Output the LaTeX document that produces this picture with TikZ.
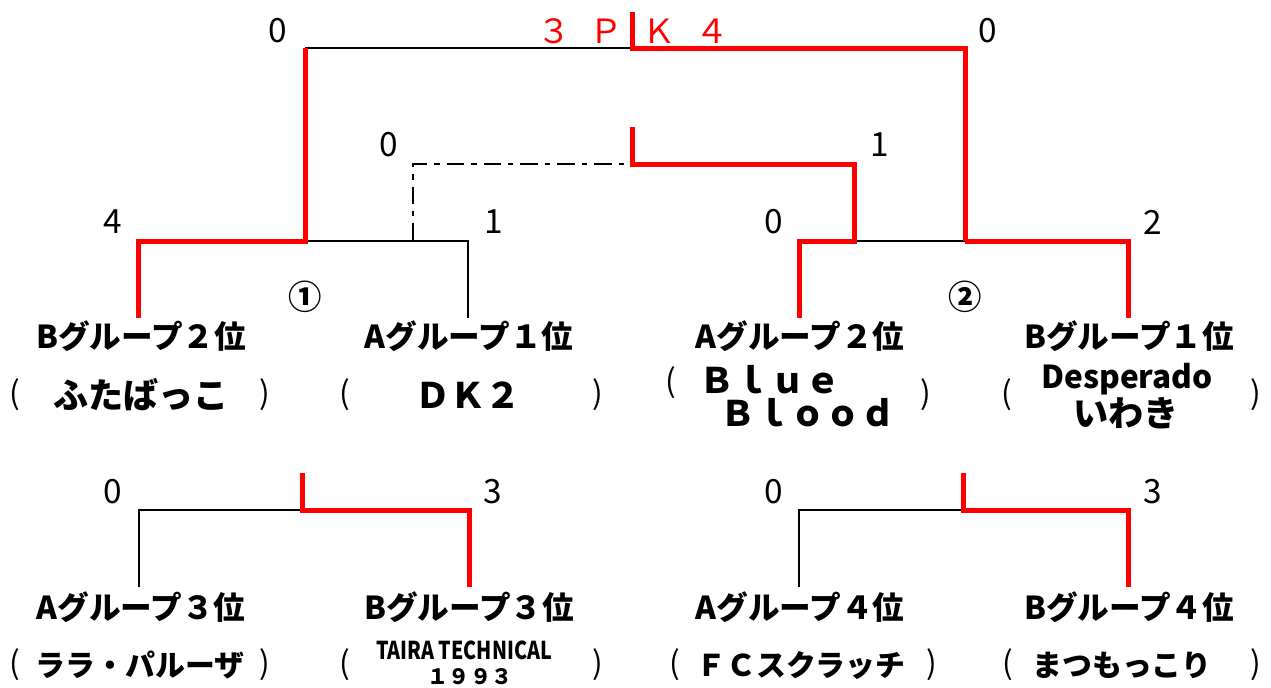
\documentclass[tikz,border=0pt]{standalone}
\usepackage{fontspec}
\setmainfont{Noto Sans CJK JP}
\newfontfamily\narrowfont[FakeStretch=0.8]{Noto Sans CJK JP}
\usepackage{tikz}

\begin{document}
\begin{tikzpicture}[x=0.02cm,y=-0.02cm,
    win/.style={draw=red, line width=0.1cm},
    lose/.style={draw=black, line width=0.055cm},
    thirdline/.style={draw=black, line width=0.055cm, dash pattern=on 10pt off 4pt on 3pt off 4pt},
    score/.style={font=\fontsize{19}{19}\selectfont, inner sep=0pt},
    grp/.style={font=\fontsize{18}{18}\selectfont\bfseries, inner sep=0pt},
    team/.style={font=\fontsize{20}{20}\selectfont\bfseries, inner sep=0pt},
    teamsm/.style={font=\fontsize{17}{17}\selectfont\bfseries, inner sep=0pt},
    paren/.style={font=\fontsize{18}{18}\selectfont, inner sep=0pt}]

    \useasboundingbox (0,0) rectangle (1271,687);

    % Draw group labels
    \node[grp] (g1) at (141,336) {Bグループ２位};
    \node[grp] (g2) at (469,336) {Aグループ１位};
    \node[grp] (g3) at (800,336) {Aグループ２位};
    \node[grp] (g4) at (1129,336) {Bグループ１位};
    \node[grp] (g5) at (141,607) {Aグループ３位};
    \node[grp] (g6) at (469,607) {Bグループ３位};
    \node[grp] (g7) at (800,607) {Aグループ４位};
    \node[grp] (g8) at (1129,607) {Bグループ４位};

    % Team names
    \node[team] (t1) at (141,395) {ふたばっこ};
    \node[team] (t2) at (468,395) {ＤＫ２};
    \node[team] (t3a) at (770,380) {Ｂｌｕｅ};
    \node[team] (t3b) at (808,413) {Ｂｌｏｏｄ};
    \node[grp] (t4a) at (1127,379) {Desperado};
    \node[team] (t4b) at (1126,413) {いわき};
    \node[teamsm] (t5) at (140,665) {ララ・パルーザ};
    \node[grp, font=\narrowfont\fontsize{14}{14}\selectfont\bfseries] (t6a) at (464,650) {TAIRA TECHNICAL};
    \node[inner sep=0pt, font=\fontsize{12}{12}\selectfont\bfseries] (t6b) at (470,677) {１９９３};
    \node[teamsm] (t7) at (801,665) {ＦＣスクラッチ};
    \node[teamsm] (t8) at (1122,665) {まつもっこり};

    % Brackets round the names
    \foreach \x/\y/\n in {15/395/a1, 345/395/a2, 671/383/a3, 1007/395/a4,
                          15/665/a5, 345/665/a6, 675/665/a7, 1008/665/a8}
        \node[paren] (o\n) at (\x,\y) {(};
    \foreach \x/\y/\n in {265/395/a1, 598/395/a2, 926/395/a3, 1256/395/a4,
                          265/665/a5, 598/665/a6, 932/665/a7, 1256/665/a8}
        \node[paren] (c\n) at (\x,\y) {)};

    % Scores
    \node[score] (sf1) at (278,31) {0};
    \node[score] (sf2) at (988,31) {0};
    \node[score, red] (pk) at (633,31) {３\hspace{11pt}Ｐ\hspace{11pt}Ｋ\hspace{11pt}４};
    \node[score] (st1) at (389,145) {0};
    \node[score] (st2) at (880,145) {1};
    \node[score] (sa1) at (113,222) {4};
    \node[score] (sa2) at (494,222) {1};
    \node[score] (sb1) at (774,222) {0};
    \node[score] (sb2) at (1153,222) {2};
    \node[score] (sc1) at (113,492) {0};
    \node[score] (sc2) at (493,492) {3};
    \node[score] (sd1) at (774,492) {0};
    \node[score] (sd2) at (1153,492) {3};

    \node[font=\fontsize{19}{19}\selectfont\bfseries, inner sep=0pt] (m1) at (305,297) {①};
    \node[font=\fontsize{19}{19}\selectfont\bfseries, inner sep=0pt] (m2) at (965,297) {②};

    % Joints of the bracket
    \coordinate (q1) at (138,318);
    \coordinate (q2) at (468,318);
    \coordinate (q3) at (799,318);
    \coordinate (q4) at (1128,318);
    \coordinate (semi1) at (305,241);
    \coordinate (semi2) at (965,241);
    \coordinate (d1) at (413,241);
    \coordinate (d2) at (854,241);
    \coordinate (fin) at (632,48);
    \coordinate (finT) at (632,12);
    \coordinate (thd) at (632,164);
    \coordinate (thdT) at (632,127);

    \draw[lose] (q2) |- (semi1);
    \draw[lose] (semi1 |- fin) -- (fin);
    \draw[lose] (d2) -- (semi2);
    \draw[thirdline] (d1) |- (thd);
    \draw[win] (q1) |- (semi1) -- (semi1 |- fin);
    \draw[win] (finT) -- (fin) -| (semi2);
    \draw[win] (q4) |- (semi2);
    \draw[win] (q3) |- (d2) -- (d2 |- thd) -- (thd) -- (thdT);

    % Lower brackets
    \coordinate (r1) at (139,587);
    \coordinate (r2) at (469,587);
    \coordinate (r3) at (799,587);
    \coordinate (r4) at (1128,587);
    \coordinate (k1) at (302,510);
    \coordinate (k1T) at (302,473);
    \coordinate (k2) at (963,510);
    \coordinate (k2T) at (963,473);

    \draw[lose] (r1) |- (k1);
    \draw[lose] (r3) |- (k2);
    \draw[win] (r2) |- (k1) -- (k1T);
    \draw[win] (r4) |- (k2) -- (k2T);

\end{tikzpicture}
\end{document}
